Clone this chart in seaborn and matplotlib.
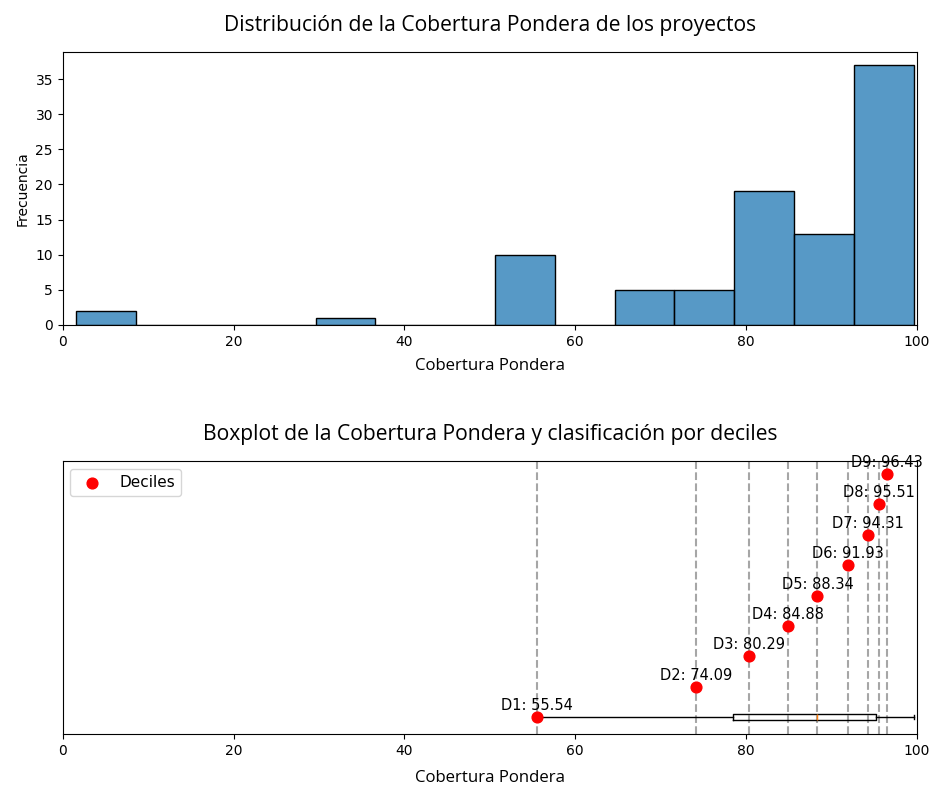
import numpy as np
import pandas as pd
import matplotlib
matplotlib.use("Agg")
import matplotlib.pyplot as plt
import seaborn as sns

# ---- data ----
data_min = 1.6
data_max = 99.6
n_bins = 14
bin_counts = [2, 0, 0, 0, 1, 0, 0, 10, 0, 5, 5, 19, 13, 37]

decile_names = ["D1", "D2", "D3", "D4", "D5", "D6", "D7", "D8", "D9"]
decile_values = [55.54, 74.09, 80.29, 84.88, 88.34, 91.93, 94.31, 95.51, 96.43]

box_whislo = 55.54
box_q1 = 78.5
box_med = 88.34
box_q3 = 95.2
box_whishi = 99.6

title_top = "Distribución de la Cobertura Pondera de los proyectos"
title_bottom = "Boxplot de la Cobertura Pondera y clasificación por deciles"
xlabel = "Cobertura Pondera"
ylabel = "Frecuencia"

# ---- figure ----
W, H = 933, 789
fig = plt.figure(figsize=(W / 100, H / 100), dpi=100)

def axes_px(l, t, r, b):
    return fig.add_axes([l / W, 1 - b / H, (r - l) / W, (b - t) / H])

ax1 = axes_px(62.7, 52, 917, 325)
ax2 = axes_px(62.7, 461, 917, 734)

label_font = dict(family="Open Sans", size=12.1)
title_font = dict(family="Open Sans", size=15.2)

# histogram
edges = np.linspace(data_min, data_max, n_bins + 1)
centers = (edges[:-1] + edges[1:]) / 2
df = pd.DataFrame({"x": centers, "w": bin_counts})
sns.histplot(data=df, x="x", weights="w",
             binwidth=(data_max - data_min) / n_bins,
             binrange=(data_min, data_max), edgecolor="black",
             linewidth=1.0, ax=ax1)
ax1.set_xlim(0, 100)
ax1.set_xlabel(xlabel, fontdict=label_font, labelpad=7)
ax1.set_ylabel(ylabel)
ax1.set_title(title_top, fontdict=title_font, pad=15)

# boxplot + deciles
stats = [dict(whislo=box_whislo, q1=box_q1, med=box_med, q3=box_q3,
              whishi=box_whishi, fliers=[])]
ax2.bxp(stats, positions=[0], widths=0.2, orientation="horizontal",
        showfliers=False, manage_ticks=False)
ypos = np.arange(len(decile_values))
for v in decile_values:
    ax2.axvline(v, color="gray", linestyle="--", alpha=0.7, linewidth=1.5, zorder=1)
ax2.scatter(decile_values, ypos, color="red", s=60, zorder=3, label="Deciles")
for name, v, y in zip(decile_names, decile_values, ypos):
    ax2.annotate(f"{name}: {v:.2f}", (v, y), xytext=(0, 5),
                 textcoords="offset points", ha="center", fontsize=10.5)
ax2.set_xlim(0, 100)
ax2.set_ylim(-0.56, 8.43)
ax2.set_yticks([])
ax2.set_xlabel(xlabel, fontdict=label_font, labelpad=9)
ax2.set_title(title_bottom, fontdict=title_font, pad=15)
ax2.legend(loc="upper left", fontsize=11)

fig.savefig("out.png", dpi=100)
